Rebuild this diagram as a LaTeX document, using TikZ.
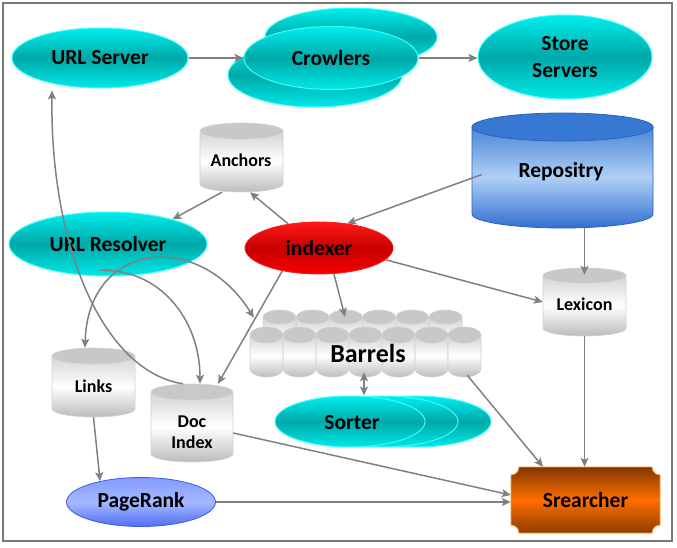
\documentclass[tikz,border=0pt]{standalone}
\usepackage{fontspec}
\setmainfont{Carlito}
\usetikzlibrary{arrows.meta,shapes.geometric,calc}

\definecolor{cyanhi}{RGB}{0,238,238}
\definecolor{cyanmid}{RGB}{0,168,168}
\definecolor{cyanlo}{RGB}{0,232,232}
\definecolor{cyanedge}{RGB}{60,252,252}
\definecolor{redhi}{RGB}{255,25,25}
\definecolor{redmid}{RGB}{200,0,0}
\definecolor{redlo}{RGB}{245,0,0}
\definecolor{arrowgray}{RGB}{128,128,128}
\definecolor{framegray}{RGB}{120,120,120}
\definecolor{cylhi}{RGB}{212,212,212}
\definecolor{cyllo}{RGB}{188,188,188}
\definecolor{cyltop}{RGB}{200,200,200}
\definecolor{cyledge}{RGB}{210,210,210}
\definecolor{repotop}{RGB}{55,120,210}
\definecolor{repoedge}{RGB}{40,100,200}
\definecolor{repohi}{RGB}{75,135,215}
\definecolor{repomid}{RGB}{175,208,245}
\definecolor{repolo}{RGB}{50,110,210}
\definecolor{pghi}{RGB}{130,155,255}
\definecolor{pgmid}{RGB}{165,185,255}
\definecolor{pglo}{RGB}{80,110,245}
\definecolor{pgedge}{RGB}{60,90,235}
\definecolor{srhi}{RGB}{130,55,0}
\definecolor{srmid}{RGB}{255,110,0}
\definecolor{srlo}{RGB}{140,60,0}
\definecolor{sredge}{RGB}{255,150,50}

\newcommand{\graycyl}[5]{%
  \path[top color=cylhi, bottom color=cyllo, middle color=white, draw=cyledge, line width=0.6pt]
    ({#1},{(#2)+(#5)}) -- ({#1},{(#4)-(#5)}) arc[start angle=180, end angle=0, x radius={((#3)-(#1))/2}, y radius={#5}] -- ({#3},{(#2)+(#5)}) -- cycle;
  \path[fill=cyltop, draw=cyledge, line width=0.6pt] ({((#1)+(#3))/2},{(#2)+(#5)}) ellipse[x radius={((#3)-(#1))/2}, y radius={#5}];
}

\tikzset{
  conn/.style={draw=arrowgray, line width=1.5pt, -{Stealth[length=9pt,width=8pt,inset=2pt]}},
  connboth/.style={draw=arrowgray, line width=1.5pt, {Stealth[length=9pt,width=8pt,inset=2pt]}-{Stealth[length=9pt,width=8pt,inset=2pt]}},
  cyanfill/.style={top color=cyanhi, bottom color=cyanlo, middle color=cyanmid, draw=cyanedge, line width=1pt},
  cyanball/.style={ellipse, cyanfill, inner sep=0pt},
  area/.style={rectangle, draw=none, inner sep=0pt},
  lbl/.style={font=\fontsize{21.5}{27}\selectfont\bfseries, text=black, align=center},
  slbl/.style={font=\fontsize{18}{21}\selectfont\bfseries, text=black, align=center},
}

\begin{document}
\begin{tikzpicture}[x=1pt,y=-1pt]
\useasboundingbox (0,0) rectangle (677,548);
\draw[framegray, line width=1.5pt] (3,3) rectangle (672,541);

% URL Server
\node[cyanball, minimum width=176pt, minimum height=60pt, lbl] (urlserver) at (100,58) {URL Server};

% Crowlers (stack)
\path[cyanfill] (351,37) ellipse[x radius=86, y radius=29];
\path[cyanfill] (315,75) ellipse[x radius=87, y radius=32];
\node[cyanball, minimum width=174pt, minimum height=63pt, lbl] (crowlers) at (331,58) {Crowlers};

% Store Servers
\node[cyanball, minimum width=174pt, minimum height=84pt, lbl] (store) at (565,57) {Store\\Servers};

% Anchors
\graycyl{200}{123}{283}{192}{8}
\node[area, minimum width=83pt, minimum height=69pt] (anchors) at (241.5,157.5) {};
\node[slbl] (anchors-t) at (241,160) {Anchors};

% Repository
\path[top color=repohi, bottom color=repolo, middle color=repomid, draw=repoedge, line width=0.8pt]
  (472,127) -- (472,214) arc[start angle=180, end angle=0, x radius=90.5, y radius=14] -- (653,127) -- cycle;
\path[fill=repotop, draw=repoedge, line width=0.8pt] (562.5,127) ellipse[x radius=90.5, y radius=14];
\node[area, minimum width=181pt, minimum height=115pt] (repo) at (562.5,170.5) {};
\node[lbl] (repo-t) at (561,172) {Repositry};

% URL Resolver
\node[cyanball, minimum width=198pt, minimum height=64pt, lbl] (urlresolver) at (108,244) {URL Resolver};

% indexer
\node[ellipse, inner sep=0pt, top color=redhi, bottom color=redlo, middle color=redmid, draw=redhi, line width=0.8pt,
      minimum width=148pt, minimum height=52pt, lbl] (indexer) at (319,248) {indexer};

% Lexicon
\graycyl{543}{268}{626}{336}{7.5}
\node[area, minimum width=83pt, minimum height=68pt] (lexicon) at (584.5,302) {};
\node[slbl] (lexicon-t) at (584.5,304) {Lexicon};

% Barrels
\foreach \i in {0,...,5} {
  \pgfmathsetmacro\bxa{263+33.2*\i}
  \pgfmathsetmacro\bxb{296+33.2*\i}
  \graycyl{\bxa}{310}{\bxb}{362}{7}
}
\foreach \i in {0,...,6} {
  \pgfmathsetmacro\bxa{250+33*\i}
  \pgfmathsetmacro\bxb{283+33*\i}
  \graycyl{\bxa}{327}{\bxb}{377}{8}
}
\node[area, minimum width=231pt, minimum height=67pt] (barrels) at (365.5,343.5) {};
\node[font=\fontsize{26}{30}\selectfont\bfseries] (barrels-t) at (368,353) {Barrels};

% Links
\graycyl{52}{348}{135}{417}{8}
\node[area, minimum width=83pt, minimum height=69pt] (links) at (93.5,382.5) {};
\node[slbl] (links-t) at (93.5,386) {Links};

% Doc Index
\graycyl{151}{384}{233}{462}{8}
\node[area, minimum width=82pt, minimum height=78pt] (docindex) at (192,423) {};
\node[slbl] (docindex-t) at (192,432) {Doc\\Index};

% Sorter (stack)
\path[cyanfill] (416,421.5) ellipse[x radius=75, y radius=25.5];
\path[cyanfill] (383,421.5) ellipse[x radius=75, y radius=25.5];
\node[cyanball, minimum width=150pt, minimum height=51pt] (sorter) at (350,421.5) {};
\node[lbl] (sorter-t) at (352,423) {Sorter};

% PageRank
\node[ellipse, inner sep=0pt, top color=pghi, bottom color=pglo, middle color=pgmid, draw=pgedge, line width=0.8pt,
      minimum width=149pt, minimum height=49pt, lbl] (pagerank) at (141,502) {PageRank};

% Srearcher
\path[top color=srhi, bottom color=srlo, middle color=srmid, draw=sredge, line width=0.8pt]
  (519,467) -- (652,467) arc[start angle=180, end angle=90, radius=8]
  -- (660,525) arc[start angle=-90, end angle=-180, radius=8]
  -- (519,533) arc[start angle=0, end angle=-90, radius=8]
  -- (511,475) arc[start angle=90, end angle=0, radius=8] -- cycle;
\node[area, minimum width=149pt, minimum height=66pt, lbl] (srearcher) at (585.5,500) {Srearcher};

% Connectors
\draw[conn] (urlserver.east) -- (urlserver.east -| crowlers.west);
\draw[conn] (crowlers.east) -- (crowlers.east -| store.west);
\draw[conn] ([shift={(10,4)}]repo.west) -- (indexer.41);
\draw[conn] (repo.south -| lexicon.north) -- ([yshift=-7pt]lexicon.north);
\draw[conn] (indexer.142) -- ([xshift=8.5pt]anchors.south);
\draw[conn] ([xshift=-19.5pt]anchors.south) -- (urlresolver.21);
\draw[conn] (indexer.-10) -- (lexicon.west);
\draw[conn] (indexer.-60) -- ([shift={(-20.5,7)}]barrels.north);
\draw[conn] (indexer.-148) -- ([xshift=26pt]docindex.north);
\draw[connboth] ([xshift=-8.5pt]links.north) .. controls (88,240) and (200,230) .. ([shift={(4,8)}]barrels.north west);
\draw[conn] ([shift={(-8,-6)}]urlresolver.south) .. controls (158,268) and (200,318) .. ([xshift=8pt]docindex.north);
\draw[conn] ([xshift=-9pt]docindex.north) .. controls (105,372) and (50,250) .. ([shift={(-48,2)}]urlserver.south);
\draw[conn] (links.south) -- (pagerank.153);
\draw[conn] (pagerank.east) -- (pagerank.east -| srearcher.west);
\draw[conn] ([shift={(0,10)}]docindex.east) -- ([shift={(0,-5)}]srearcher.west);
\draw[conn] ([shift={(-14,-2)}]barrels.south east) -- ([xshift=-42.5pt]srearcher.north);
\draw[conn] (lexicon.south) -- (lexicon.south |- srearcher.north);
\draw[connboth] ([shift={(-1.5,-5)}]barrels.south) -- ([xshift=14pt]sorter.north);
\end{tikzpicture}
\end{document}
